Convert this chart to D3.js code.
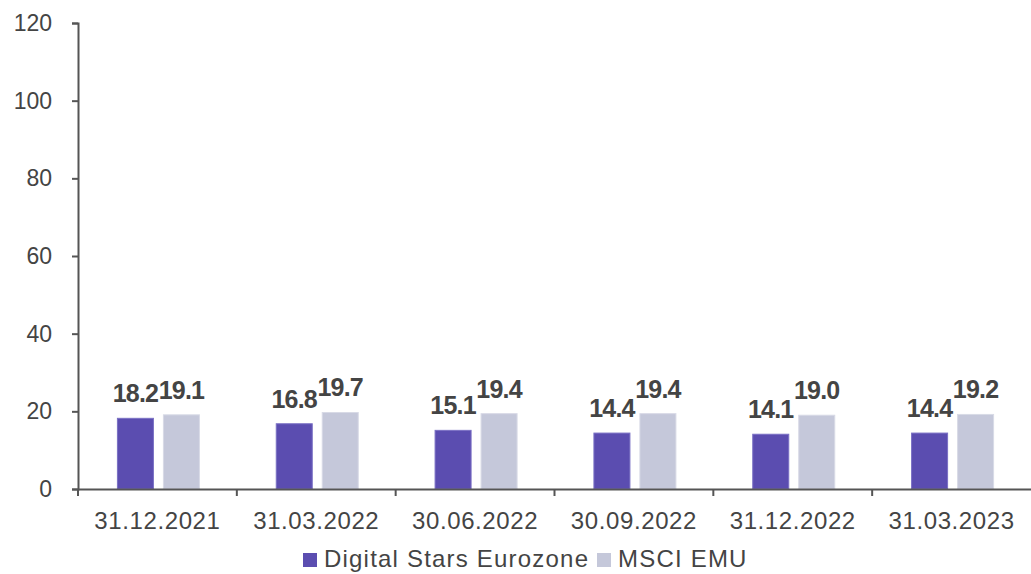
<!DOCTYPE html>
<html>
<head>
<meta charset="utf-8">
<script src="https://cdn.jsdelivr.net/npm/d3@7"></script>
<style>
    body { margin: 0; background: #fff; }
    svg { font-family: "Liberation Sans", Arial, sans-serif; }
</style>
</head>
<body>
<div id="chart"></div>
<script>
// Datos del gráfico
const categories = ["31.12.2021", "31.03.2022", "30.06.2022", "30.09.2022", "31.12.2022", "31.03.2023"];
const seriesNames = ["Digital Stars Eurozone", "MSCI EMU"];
const digitalStars = [18.2, 16.8, 15.1, 14.4, 14.1, 14.4];
const msciEmu = [19.1, 19.7, 19.4, 19.4, 19.0, 19.2];
const yTicks = [0, 20, 40, 60, 80, 100, 120];

const colors = ["#5b4db0", "#c5c8da"];
const width = 1031;
const height = 574;
const margin = { top: 23, right: 0, bottom: 85, left: 78 };

/**
 * Dibuja el gráfico de barras agrupadas.
 */
function drawChart() {
    const svg = d3.select("#chart").append("svg")
        .attr("width", width)
        .attr("height", height);

    const x = d3.scaleBand()
        .domain(categories)
        .range([margin.left, width - margin.right]);

    const y = d3.scaleLinear()
        .domain([0, 120])
        .range([height - margin.bottom, margin.top]);

    const inner = d3.scaleBand()
        .domain(seriesNames)
        .range([0, 82])
        .paddingInner(0.217);

    const series = [digitalStars, msciEmu];

    // Barras y etiquetas de valor
    categories.forEach((cat, i) => {
        const x0 = x(cat) + x.bandwidth() / 2 - 40;
        series.forEach((values, s) => {
            const v = values[i];
            svg.append("rect")
                .attr("x", x0 + inner(seriesNames[s]))
                .attr("y", y(v))
                .attr("width", inner.bandwidth())
                .attr("height", y(0) - y(v))
                .attr("fill", colors[s])
                .attr("stroke", s === 0 ? "#7a70c4" : "#d8dae6")
                .attr("stroke-width", 1);

            svg.append("text")
                .attr("x", x0 + inner(seriesNames[s]) + inner.bandwidth() / 2)
                .attr("y", y(v) - 16)
                .attr("text-anchor", "middle")
                .attr("font-size", 25)
                .attr("font-weight", "bold")
                .attr("letter-spacing", -0.8)
                .attr("fill", "#444")
                .text(v.toFixed(1));
        });
    });

    // Eje Y
    const yAxis = svg.append("g")
        .attr("transform", `translate(${margin.left},0)`)
        .call(d3.axisLeft(y).tickValues(yTicks).tickSize(6).tickPadding(20));
    yAxis.select(".domain").attr("stroke", "#555").attr("stroke-width", 2);
    yAxis.selectAll(".tick line").attr("stroke", "#555").attr("stroke-width", 2);
    yAxis.selectAll(".tick text")
        .attr("font-size", 23)
        .attr("fill", "#444")
        .attr("font-family", "Liberation Sans, Arial, sans-serif");

    // Eje X
    const xAxis = svg.append("g")
        .attr("transform", `translate(0,${y(0)})`)
        .call(d3.axisBottom(x).tickSize(0).tickSizeOuter(0));
    xAxis.select(".domain").attr("stroke", "#555").attr("stroke-width", 2);
    xAxis.selectAll(".tick text")
        .attr("y", 40)
        .attr("dy", 0)
        .attr("font-size", 24)
        .attr("letter-spacing", 0.6)
        .attr("fill", "#444")
        .attr("font-family", "Liberation Sans, Arial, sans-serif");

    // Marcas entre categorías
    const boundaries = categories.map(c => x(c));
    svg.append("g").selectAll("line")
        .data(boundaries)
        .enter().append("line")
        .attr("x1", d => d)
        .attr("x2", d => d)
        .attr("y1", y(0))
        .attr("y2", y(0) + 7)
        .attr("stroke", "#555")
        .attr("stroke-width", 2);

    // Leyenda
    const legend = svg.append("g");
    const legendX = [303, 597];
    seriesNames.forEach((name, s) => {
        legend.append("rect")
            .attr("x", legendX[s])
            .attr("y", 553)
            .attr("width", 14)
            .attr("height", 14)
            .attr("fill", colors[s]);
        legend.append("text")
            .attr("x", legendX[s] + 21)
            .attr("y", 567)
            .attr("font-size", 24)
            .attr("letter-spacing", 1.2)
            .attr("fill", "#444")
            .text(name);
    });
}

drawChart();
</script>
</body>
</html>
